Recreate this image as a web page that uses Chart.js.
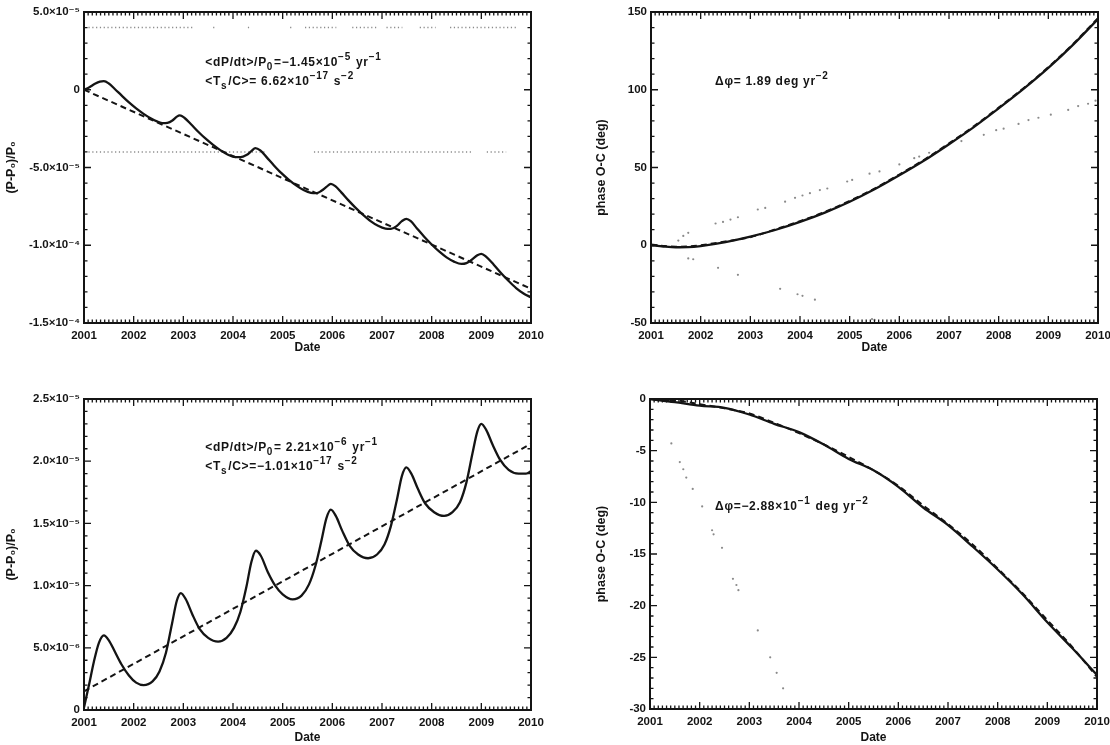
<!DOCTYPE html>
<html>
<head>
<meta charset="utf-8">
<script src="https://cdn.jsdelivr.net/npm/chart.js@4.4.1/dist/chart.umd.min.js"></script>
<style>
  body { margin: 0; background: #fff; width: 1110px; height: 745px; overflow: hidden; position: relative; }
  .panel { position: absolute; }
  canvas { display: block; }
</style>
</head>
<body>
<div class="panel" style="left:0;top:0"><canvas id="c1" width="560" height="360"></canvas></div>
<div class="panel" style="left:590px;top:0"><canvas id="c2" width="540" height="360"></canvas></div>
<div class="panel" style="left:0;top:380px"><canvas id="c3" width="560" height="365"></canvas></div>
<div class="panel" style="left:590px;top:380px"><canvas id="c4" width="540" height="365"></canvas></div>
<script>
// ---- data ----
const yearTicks = [2001, 2002, 2003, 2004, 2005, 2006, 2007, 2008, 2009, 2010];

// top-left: (P-P0)/P0 in units of 1e-6
const p1Years = [2001.00, 2001.10, 2001.22, 2001.32, 2001.40, 2001.50, 2001.62, 2001.75, 2001.90, 2002.05,
  2002.20, 2002.35, 2002.48, 2002.58, 2002.68, 2002.78, 2002.87, 2002.93, 2003.02, 2003.15,
  2003.30, 2003.45, 2003.60, 2003.75, 2003.90, 2004.05, 2004.15, 2004.27, 2004.37, 2004.45,
  2004.55, 2004.68, 2004.82, 2004.97, 2005.12, 2005.27, 2005.42, 2005.57, 2005.68, 2005.78,
  2005.88, 2005.97, 2006.06, 2006.18, 2006.32, 2006.47, 2006.62, 2006.77, 2006.92, 2007.07,
  2007.18, 2007.30, 2007.40, 2007.49, 2007.58, 2007.70, 2007.85, 2008.00, 2008.15, 2008.30,
  2008.45, 2008.60, 2008.70, 2008.80, 2008.92, 2009.00, 2009.10, 2009.25, 2009.40, 2009.55,
  2009.70, 2009.85, 2010.00];
const p1Ratio = [0.0, 1.5, 3.8, 5.2, 5.5, 4.0, 0.5, -3.5, -8.0, -12.0,
  -15.5, -18.5, -20.5, -21.5, -21.3, -19.8, -17.3, -16.5, -18.0, -22.0,
  -27.0, -31.5, -35.5, -39.0, -41.8, -43.3, -43.3, -42.0, -39.5, -37.5,
  -39.0, -43.5, -48.5, -53.5, -57.8, -61.5, -64.5, -66.3, -66.5, -65.0,
  -62.5, -60.5, -62.0, -66.0, -71.0, -76.0, -80.5, -84.5, -87.5, -89.3,
  -89.5, -87.5, -84.5, -83.0, -84.5, -89.0, -94.5, -99.5, -104.0, -107.8,
  -110.5, -112.0, -111.5, -109.5, -106.5, -105.5, -107.5, -112.5, -118.0, -123.0,
  -127.5, -131.0, -133.5];
const p1FitYears = [2001, 2010];
const p1FitRatio = [0.0, -128.0];
const p1RowUpperLevel = 40;
const p1RowUpper = [[2001.09, 2003.22], [2003.60, 2003.63], [2004.30, 2004.33], [2005.15, 2005.18],
  [2005.45, 2006.08], [2006.40, 2006.91], [2007.09, 2007.41], [2007.76, 2008.08], [2008.37, 2009.71]];
const p1RowLowerLevel = -40;
const p1RowLower = [[2001.09, 2004.67], [2005.63, 2008.83], [2009.11, 2009.50]];
const p1YTickValues = [50, 0, -50, -100, -150];
const p1YTickLabels = ['5.0×10⁻⁵', '0', '-5.0×10⁻⁵', '-1.0×10⁻⁴', '-1.5×10⁻⁴'];

// top-right: phase O-C (deg)
const p2Years = [2001.0, 2001.25, 2001.5, 2001.75, 2002.0, 2002.5, 2003.0, 2003.5, 2004.0, 2004.5,
  2005.0, 2005.5, 2006.0, 2006.5, 2007.0, 2007.5, 2008.0, 2008.5, 2009.0, 2009.5, 2010.0];
const p2Phase = [0.0, -0.8, -1.3, -1.2, -0.5, 2.0, 5.5, 9.8, 15.0, 21.0,
  28.0, 36.0, 45.0, 54.5, 65.0, 76.0, 88.0, 100.5, 114.0, 129.0, 145.5];
const p2FitPhase = [0.5, -0.4, -0.9, -0.8, 0.0, 2.4, 5.2, 10.2, 15.5, 21.4,
  28.5, 36.4, 45.5, 55.0, 65.5, 76.5, 88.5, 101.0, 114.5, 129.5, 146.0];
const p2UpperDotYears = [2001.55, 2001.65, 2001.75, 2002.30, 2002.45, 2002.60, 2002.75, 2003.15, 2003.30, 2003.70,
  2003.90, 2004.05, 2004.20, 2004.40, 2004.55, 2004.95, 2005.05, 2005.40, 2005.60, 2006.00,
  2006.30, 2006.40, 2006.60, 2007.25, 2007.70, 2007.95, 2008.10, 2008.40, 2008.60, 2008.80,
  2009.05, 2009.40, 2009.60, 2009.80, 2009.95];
const p2UpperDotPhase = [3, 6, 8, 14, 15, 16.5, 18, 23, 24, 28,
  30.5, 32, 33.5, 35.5, 36.5, 41, 42, 46, 47.5, 52,
  56, 57, 59.5, 67, 71, 74, 75, 78, 80.5, 82,
  84, 87, 89.5, 91, 93];
const p2LowerDotYears = [2001.75, 2001.85, 2002.35, 2002.75, 2003.60, 2003.95, 2004.05, 2004.30, 2005.45, 2005.50];
const p2LowerDotPhase = [-8.5, -9, -14.5, -19, -28, -31.5, -32.5, -35, -47.5, -48];
const p2YTickValues = [150, 100, 50, 0, -50];
const p2YTickLabels = ['150', '100', '50', '0', '-50'];

// bottom-left: (P-P0)/P0 in units of 1e-6
const p3Years = [2001.00, 2001.10, 2001.20, 2001.30, 2001.40, 2001.50, 2001.62, 2001.75, 2001.90, 2002.05,
  2002.20, 2002.38, 2002.52, 2002.65, 2002.77, 2002.87, 2002.95, 2003.05, 2003.18, 2003.33,
  2003.50, 2003.70, 2003.87, 2004.02, 2004.15, 2004.27, 2004.37, 2004.46, 2004.56, 2004.70,
  2004.85, 2005.00, 2005.20, 2005.38, 2005.53, 2005.66, 2005.78, 2005.88, 2005.97, 2006.07,
  2006.20, 2006.35, 2006.52, 2006.72, 2006.90, 2007.05, 2007.18, 2007.30, 2007.40, 2007.49,
  2007.59, 2007.72, 2007.87, 2008.05, 2008.25, 2008.42, 2008.57, 2008.70, 2008.82, 2008.92,
  2009.00, 2009.10, 2009.23, 2009.38, 2009.55, 2009.75, 2009.90, 2010.00];
const p3Ratio = [0.2, 2.0, 3.9, 5.4, 6.0, 5.6, 4.7, 3.7, 2.8, 2.2,
  2.0, 2.3, 3.1, 4.6, 6.9, 8.8, 9.4, 8.9, 7.7, 6.5,
  5.8, 5.5, 5.8, 6.6, 7.9, 9.9, 11.9, 12.8, 12.4, 11.1,
  10.0, 9.3, 8.9, 9.2, 10.1, 11.6, 13.6, 15.4, 16.1, 15.6,
  14.4, 13.2, 12.5, 12.2, 12.5, 13.3, 14.8, 16.9, 18.8, 19.5,
  19.0, 17.8, 16.6, 15.9, 15.6, 15.9, 16.7, 18.3, 20.6, 22.4,
  23.0, 22.5, 21.3, 20.1, 19.3, 19.0, 19.0, 19.2];
const p3FitYears = [2001, 2010];
const p3FitRatio = [1.5, 21.4];
const p3YTickValues = [25, 20, 15, 10, 5, 0];
const p3YTickLabels = ['2.5×10⁻⁵', '2.0×10⁻⁵', '1.5×10⁻⁵', '1.0×10⁻⁵', '5.0×10⁻⁶', '0'];

// bottom-right: phase O-C (deg)
const p4Years = [2001.0, 2001.5, 2002.0, 2002.5, 2003.0, 2003.5, 2004.0, 2004.5, 2005.0, 2005.5,
  2006.0, 2006.5, 2007.0, 2007.5, 2008.0, 2008.5, 2009.0, 2009.5, 2010.0];
const p4Phase = [0.0, -0.3, -0.65, -0.85, -1.5, -2.4, -3.2, -4.4, -5.8, -6.9,
  -8.5, -10.5, -12.2, -14.3, -16.5, -18.9, -21.6, -24.1, -26.7];
const p4FitPhase = [0.0, -0.1, -0.5, -0.9, -1.4, -2.3, -3.3, -4.4, -5.6, -6.9,
  -8.4, -10.3, -12.1, -14.1, -16.4, -18.8, -21.4, -24.0, -26.9];
const p4DotYears = [2001.43, 2001.60, 2001.67, 2001.73, 2001.86, 2002.05, 2002.25, 2002.28, 2002.45, 2002.67,
  2002.74, 2002.78, 2003.17, 2003.42, 2003.55, 2003.68];
const p4DotPhase = [-4.3, -6.1, -6.8, -7.6, -8.7, -10.4, -12.7, -13.1, -14.4, -17.4,
  -18.0, -18.5, -22.4, -25.0, -26.5, -28.0];
const p4YTickValues = [0, -5, -10, -15, -20, -25, -30];
const p4YTickLabels = ['0', '-5', '-10', '-15', '-20', '-25', '-30'];

// ---- helpers ----
const FONT = "'Liberation Sans', 'DejaVu Sans', Arial, sans-serif";
const INK = '#141414';
const DOTS = '#8a8a8a';

function pairs(xs, ys) {
  return xs.map((x, i) => ({ x: x, y: ys[i] }));
}

// dotted sampling rows: segments separated by gaps
function rowSegments(segs, level) {
  const out = [];
  segs.forEach(s => {
    out.push({ x: s[0], y: level }, { x: s[1], y: level }, { x: (s[1] + 0.001), y: null });
  });
  return out;
}

function tickLookup(values, labels) {
  return function(v) {
    const i = values.indexOf(Math.round(v));
    return i >= 0 ? labels[i] : '';
  };
}

function xAxis(height, titlePad) {
  return {
    type: 'linear', min: 2001, max: 2010,
    afterFit: s => { s.height = height; },
    grid: { display: false, drawTicks: false },
    border: { display: false },
    ticks: {
      stepSize: 1, padding: 6, color: INK, maxRotation: 0, autoSkip: false,
      font: { family: FONT, size: 11.5, weight: 'bold' },
      callback: v => yearTicks.includes(v) ? String(v) : ''
    },
    title: {
      display: true, text: 'Date', color: INK,
      font: { family: FONT, size: 12, weight: 'bold' },
      padding: { top: 0, bottom: titlePad }
    }
  };
}

function yAxis(width, min, max, step, values, labels, title) {
  return {
    type: 'linear', min: min, max: max,
    afterFit: s => { s.width = width; },
    grid: { display: false, drawTicks: false },
    border: { display: false },
    ticks: {
      stepSize: step, padding: 4, color: INK, autoSkip: false,
      font: { family: FONT, size: 11.5, weight: 'bold' },
      callback: tickLookup(values, labels)
    },
    title: {
      display: true, text: title, color: INK,
      font: { family: FONT, size: 12.5, weight: 'bold' },
      padding: { top: 4, bottom: 0 }
    }
  };
}

// IDL-style box with inward major/minor ticks on all four sides
const idlBox = {
  id: 'idlBox',
  afterDatasetsDraw(chart, args, opts) {
    const { ctx, chartArea: a, scales: { x, y } } = chart;
    ctx.save();
    ctx.strokeStyle = INK;
    ctx.lineWidth = 1.3;
    ctx.beginPath();
    for (let yr = 2001; yr <= 2010; yr++) {
      for (let m = 0; m < 12; m++) {
        const v = yr + m / 12;
        if (v > 2010) break;
        const px = x.getPixelForValue(v);
        const len = m === 0 ? 7 : 3.5;
        ctx.moveTo(px, a.bottom); ctx.lineTo(px, a.bottom - len);
        ctx.moveTo(px, a.top); ctx.lineTo(px, a.top + len);
      }
    }
    const minorStep = opts.yStep / opts.yMinor;
    for (let k = 0; k <= Math.round((y.max - y.min) / minorStep); k++) {
      const v = y.min + k * minorStep;
      const py = y.getPixelForValue(v);
      const len = (k % opts.yMinor === 0) ? 7 : 3.5;
      ctx.moveTo(a.left, py); ctx.lineTo(a.left + len, py);
      ctx.moveTo(a.right, py); ctx.lineTo(a.right - len, py);
    }
    ctx.stroke();
    ctx.lineWidth = 2;
    ctx.strokeRect(a.left, a.top, a.right - a.left, a.bottom - a.top);
    ctx.restore();
  }
};

// annotation text with sub/superscripts
const richText = {
  id: 'richText',
  afterDraw(chart, args, opts) {
    const { ctx, scales: { x, y } } = chart;
    ctx.save();
    ctx.fillStyle = INK;
    ctx.textBaseline = 'middle';
    ctx.letterSpacing = '0.7px';
    (opts.items || []).forEach(item => {
      let cx = x.getPixelForValue(item.x);
      const cy = y.getPixelForValue(item.y);
      item.segs.forEach(seg => {
        const t = seg[0], mode = seg[1];
        const fs = mode ? 10 : 12;
        ctx.font = 'bold ' + fs + 'px ' + FONT;
        const dy = mode === 'sup' ? -6 : (mode === 'sub' ? 4 : 0);
        ctx.fillText(t, cx, cy + dy);
        cx += ctx.measureText(t).width + (mode ? 1 : 0);
      });
    });
    ctx.restore();
  }
};

function solid(data) {
  return { data: data, borderColor: INK, borderWidth: 2.3, pointRadius: 0, cubicInterpolationMode: 'monotone', fill: false };
}
function dashed(data) {
  return { data: data, borderColor: INK, borderWidth: 2, borderDash: [6, 4], pointRadius: 0, cubicInterpolationMode: 'monotone', fill: false };
}
function dottedRow(data) {
  return { data: data, borderColor: DOTS, borderWidth: 1.4, borderDash: [1.2, 2.6], pointRadius: 0, spanGaps: false, fill: false };
}
function dots(data) {
  return { data: data, showLine: false, pointRadius: 1.1, pointBackgroundColor: DOTS, pointBorderWidth: 0, borderColor: DOTS };
}

function makeChart(id, datasets, pad, xa, ya, box, notes) {
  return new Chart(document.getElementById(id), {
    type: 'line',
    data: { datasets: datasets },
    options: {
      responsive: false,
      animation: false,
      events: [],
      layout: { padding: pad },
      scales: { x: xa, y: ya },
      plugins: {
        legend: { display: false },
        tooltip: { enabled: false },
        idlBox: box,
        richText: { items: notes }
      }
    },
    plugins: [idlBox, richText]
  });
}

// top-left
makeChart('c1', [
  solid(pairs(p1Years, p1Ratio)),
  dashed(pairs(p1FitYears, p1FitRatio)),
  dottedRow(rowSegments(p1RowUpper, p1RowUpperLevel)),
  dottedRow(rowSegments(p1RowLower, p1RowLowerLevel))
], { top: 12, right: 29, left: 0, bottom: 0 },
  xAxis(37, 5),
  yAxis(84, -150, 50, 50, p1YTickValues, p1YTickLabels, '(P-P₀)/P₀'),
  { yStep: 50, yMinor: 5 },
  [
    { x: 2003.44, y: 17.2, segs: [['<dP/dt>/P', ''], ['0', 'sub'], ['=−1.45×10', ''], ['−5', 'sup'], [' yr', ''], ['−1', 'sup']] },
    { x: 2003.44, y: 5.0, segs: [['<T', ''], ['s', 'sub'], ['/C>= 6.62×10', ''], ['−17', 'sup'], [' s', ''], ['−2', 'sup']] }
  ]);

// top-right
makeChart('c2', [
  solid(pairs(p2Years, p2Phase)),
  dashed(pairs(p2Years, p2FitPhase)),
  dots(pairs(p2UpperDotYears, p2UpperDotPhase)),
  dots(pairs(p2LowerDotYears, p2LowerDotPhase))
], { top: 12, right: 32, left: 0, bottom: 0 },
  xAxis(37, 5),
  yAxis(61, -50, 150, 50, p2YTickValues, p2YTickLabels, 'phase O-C (deg)'),
  { yStep: 50, yMinor: 5 },
  [
    { x: 2002.29, y: 105, segs: [['Δφ= 1.89 deg yr', ''], ['−2', 'sup']] }
  ]);

// bottom-left
makeChart('c3', [
  solid(pairs(p3Years, p3Ratio)),
  dashed(pairs(p3FitYears, p3FitRatio))
], { top: 19, right: 29, left: 0, bottom: 0 },
  xAxis(35, 0),
  yAxis(84, 0, 25, 5, p3YTickValues, p3YTickLabels, '(P-P₀)/P₀'),
  { yStep: 5, yMinor: 5 },
  [
    { x: 2003.44, y: 21.06, segs: [['<dP/dt>/P', ''], ['0', 'sub'], ['= 2.21×10', ''], ['−6', 'sup'], [' yr', ''], ['−1', 'sup']] },
    { x: 2003.44, y: 19.53, segs: [['<T', ''], ['s', 'sub'], ['/C>=−1.01×10', ''], ['−17', 'sup'], [' s', ''], ['−2', 'sup']] }
  ]);

// bottom-right
makeChart('c4', [
  solid(pairs(p4Years, p4Phase)),
  dashed(pairs(p4Years, p4FitPhase)),
  dots(pairs(p4DotYears, p4DotPhase))
], { top: 19, right: 33, left: 0, bottom: 0 },
  xAxis(36, 0),
  yAxis(60, -30, 0, 5, p4YTickValues, p4YTickLabels, 'phase O-C (deg)'),
  { yStep: 5, yMinor: 5 },
  [
    { x: 2002.31, y: -10.45, segs: [['Δφ=−2.88×10', ''], ['−1', 'sup'], [' deg yr', ''], ['−2', 'sup']] }
  ]);
</script>
</body>
</html>
